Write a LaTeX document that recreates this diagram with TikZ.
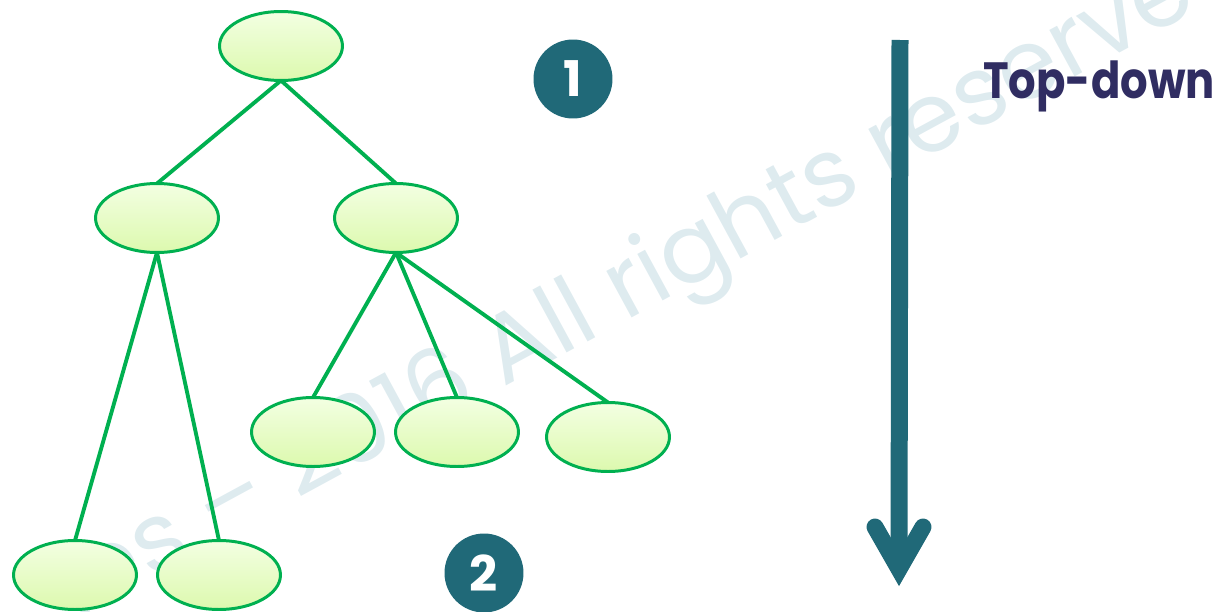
\documentclass[tikz,border=0pt]{standalone}
\usepackage{fontspec}
\setmainfont{Poppins}
\usetikzlibrary{shapes.geometric}
\definecolor{edgegreen}{HTML}{00B050}
\definecolor{tealdark}{HTML}{206978}
\definecolor{navytext}{HTML}{302D62}
\definecolor{wmark}{HTML}{DEEBEF}
\definecolor{filltop}{HTML}{F3FFE2}
\definecolor{fillbot}{HTML}{DCF9AE}
\tikzset{
  treenode/.style={ellipse, draw=edgegreen, line width=1.7pt, top color=filltop, bottom color=fillbot,
    minimum width=2.46cm, minimum height=1.38cm, inner sep=0pt, outer sep=0pt},
  treeedge/.style={draw=edgegreen, line width=2.2pt},
  numbadge/.style={circle, fill=tealdark, text=white, minimum size=1.58cm, inner sep=0pt,
    font=\fontsize{28}{28}\selectfont\bfseries},
  bigarrow/.style={draw=tealdark, line width=0.34cm}
}
\begin{document}
\begin{tikzpicture}[x=0.02cm, y=-0.02cm]
\useasboundingbox (0,0) rectangle (1221,612);
% watermark
\node[anchor=base west, rotate=28.5, text=wmark, font=\fontsize{55}{55}\selectfont, inner sep=0pt] (wm) at (503,388) {\llap{ies – 2016 }All rights reserved};
% tree
\node[treenode] (r) at (281,46) {};
\node[treenode] (a) at (157,218) {};
\node[treenode] (b) at (396,218) {};
\node[treenode] (b1) at (313,432) {};
\node[treenode] (b2) at (457,432) {};
\node[treenode] (b3) at (608,437) {};
\node[treenode] (a1) at (75,575) {};
\node[treenode] (a2) at (219,575) {};
\draw[treeedge] (r.south) -- (a.north);
\draw[treeedge] (r.south) -- (b.north);
\draw[treeedge] (a.south) -- (a1.north);
\draw[treeedge] (a.south) -- (a2.north);
\draw[treeedge] (b.south) -- (b1.north);
\draw[treeedge] (b.south) -- (b2.north);
\draw[treeedge] (b.south) -- (b3.north);
% badges
\node[numbadge] (n1) at (573,79) {1};
\node[numbadge] (n2) at (484,573) {2};
% arrow
\coordinate (atop) at (900,40);
\coordinate (atip) at (899,569);
\coordinate (al) at (875,527);
\coordinate (ar) at (923,527);
\draw[bigarrow, line cap=butt] (atop) -- (atip);
\draw[bigarrow, line cap=round, line join=miter] (al) -- (atip) -- (ar);
% label
\node[anchor=base west, text=navytext, font=\fontsize{29}{29}\selectfont\bfseries, inner sep=0pt] (td) at (983,98) {\scalebox{0.85}[1]{Top-down}};
\end{tikzpicture}
\end{document}
